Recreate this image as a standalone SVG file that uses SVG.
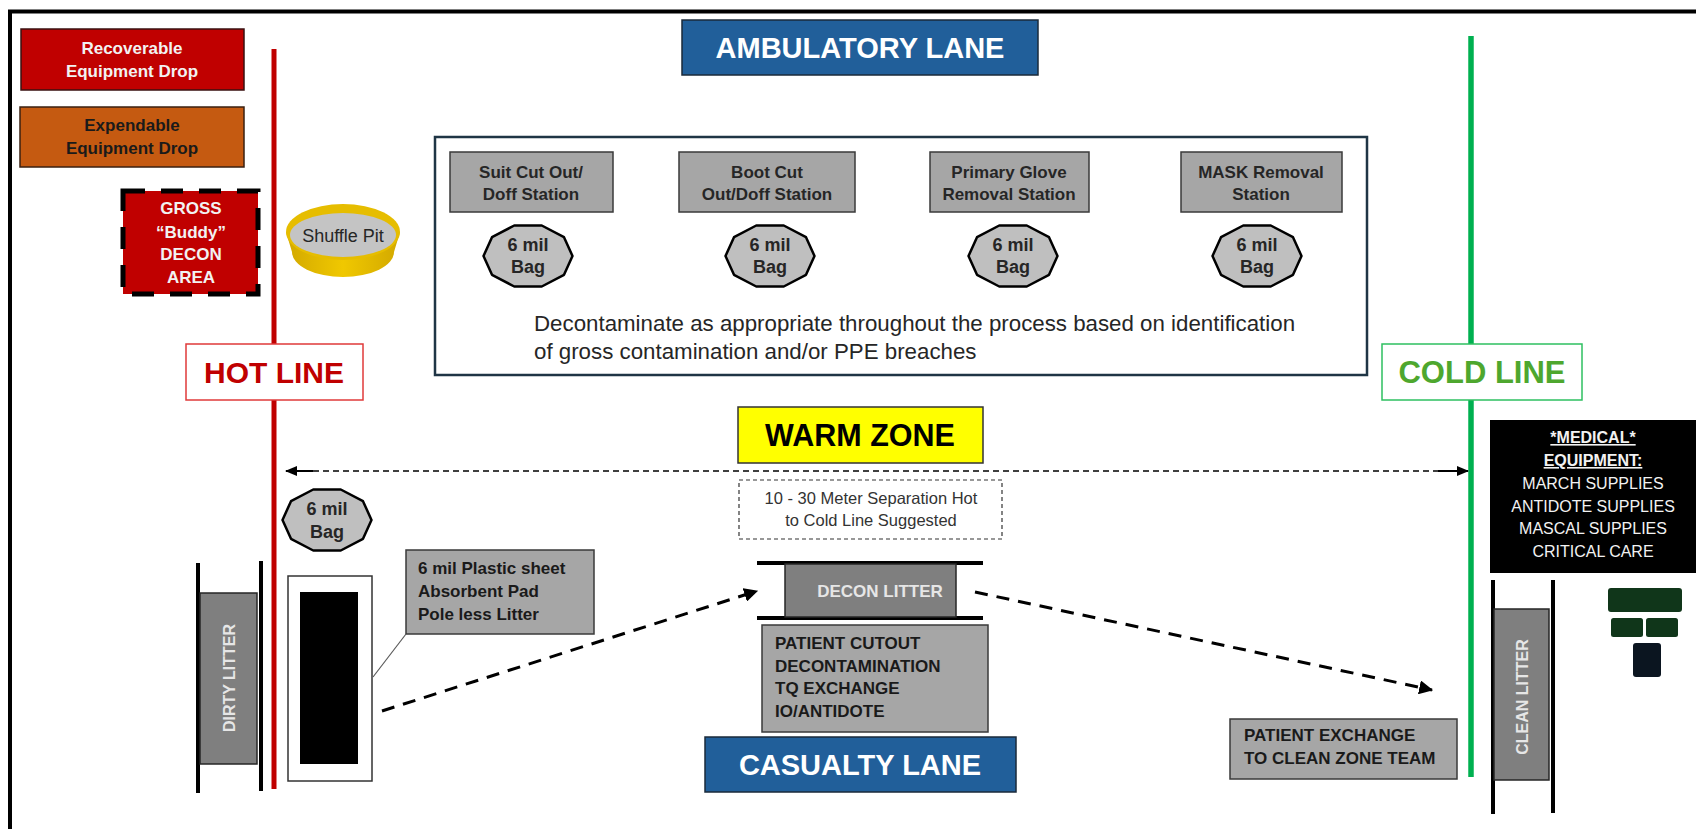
<svg xmlns="http://www.w3.org/2000/svg" xmlns:xlink="http://www.w3.org/1999/xlink" width="1696" height="829" viewBox="0 0 1696 829">
  <style>
    text { font-family: "Liberation Sans", Arial, sans-serif; }
    .bold { font-weight: bold; }
    .mid { text-anchor: middle; }
    .grey-box { fill: #A6A6A6; stroke: #3A3A3A; stroke-width: 1.5; }
    .station-text { font-size: 17px; font-weight: bold; fill: #262626; text-anchor: middle; }
    .bag-text { font-size: 18px; font-weight: bold; fill: #262626; text-anchor: middle; }
    .note-text { font-size: 17px; font-weight: bold; fill: #1A1A1A; }
    .pole { stroke: #000; stroke-width: 4; }
    .litter { fill: #7F7F7F; stroke: #262626; stroke-width: 1.5; }
    .litter-text { font-size: 16px; font-weight: bold; fill: #E6E6E6; text-anchor: middle; }
    .lane { fill: #215F9A; stroke: #1A2A3A; stroke-width: 1.5; }
    .lane-text { font-size: 29px; font-weight: bold; fill: #FFFFFF; text-anchor: middle; }
    .flow { fill: none; stroke: #000; stroke-width: 3; stroke-dasharray: 13 9; }
    .med { font-size: 16px; fill: #F2F2F2; text-anchor: middle; }
  </style>
  <defs>
    <!-- ten-sided bag outline centred on the origin -->
    <path id="bag" d="M44.5,0 L36,-18.85 L13.75,-30.5 L-13.75,-30.5 L-36,-18.85 L-44.5,0 L-36,18.85 L-13.75,30.5 L13.75,30.5 L36,18.85 Z" fill="#BFBFBF" stroke="#000" stroke-width="2.5" stroke-linejoin="round"/>
    <marker id="head" viewBox="0 0 12 12" refX="11" refY="6" markerWidth="14" markerHeight="14" markerUnits="userSpaceOnUse" orient="auto">
      <path d="M0,0 L12,6 L0,12 Z" fill="#000"/>
    </marker>
    <marker id="thin-head" viewBox="0 0 12 12" refX="11" refY="6" markerWidth="12" markerHeight="12" markerUnits="userSpaceOnUse" orient="auto">
      <path d="M0,1 L12,6 L0,11 Z" fill="#000"/>
    </marker>
    <linearGradient id="gold" x1="0" y1="0" x2="1" y2="0">
      <stop offset="0" stop-color="#D2A800"/>
      <stop offset="0.5" stop-color="#F0C800"/>
      <stop offset="1" stop-color="#D2A800"/>
    </linearGradient>
  </defs>

  <rect width="1696" height="829" fill="#FFFFFF"/>
  <!-- outer frame -->
  <rect x="10" y="11.5" width="1700" height="830" fill="none" stroke="#000" stroke-width="4"/>

  <!-- zone boundary lines -->
  <g id="hot-line-bar">
    <line x1="274" y1="49" x2="274" y2="789" stroke="#C00000" stroke-width="5"/>
  </g>
  <g id="cold-line-bar">
    <line x1="1471" y1="36" x2="1471" y2="777" stroke="#00B050" stroke-width="5.5"/>
  </g>

  <g id="recoverable-drop">
    <rect x="21" y="29" width="223" height="61" fill="#C00000" stroke="#3A1010" stroke-width="1.5"/>
    <text class="bold mid" x="132" y="54" font-size="17" fill="#F2F2F2">Recoverable</text>
    <text class="bold mid" x="132" y="77" font-size="17" fill="#F2F2F2">Equipment Drop</text>
  </g>

  <g id="expendable-drop">
    <rect x="20" y="107" width="224" height="60" fill="#C55A11" stroke="#3A2010" stroke-width="1.5"/>
    <text class="bold mid" x="132" y="131" font-size="17" fill="#1A1A1A">Expendable</text>
    <text class="bold mid" x="132" y="154" font-size="17" fill="#1A1A1A">Equipment Drop</text>
  </g>

  <g id="gross-decon">
    <rect x="123" y="191" width="135" height="103" fill="#C00000" stroke="#000" stroke-width="5" stroke-dasharray="22 16"/>
    <text class="bold mid" x="191" y="214" font-size="17" fill="#F2F2F2">GROSS</text>
    <text class="bold mid" x="191" y="238" font-size="17" fill="#F2F2F2">“Buddy”</text>
    <text class="bold mid" x="191" y="260" font-size="17" fill="#F2F2F2">DECON</text>
    <text class="bold mid" x="191" y="283" font-size="17" fill="#F2F2F2">AREA</text>
  </g>

  <g id="shuffle-pit">
    <path d="M286,232 L292,252 A51,25 0 0 0 394,252 L400,232 Z" fill="url(#gold)"/>
    <ellipse cx="343" cy="232" rx="57" ry="28" fill="#E6BD00"/>
    <ellipse cx="343" cy="235" rx="53" ry="22" fill="#C4C4C4"/>
    <text class="mid" x="343" y="242" font-size="18" fill="#262626">Shuffle Pit</text>
  </g>

  <g id="ambulatory-lane">
    <rect x="682" y="20" width="356" height="55" class="lane"/>
    <text class="lane-text" x="860" y="58">AMBULATORY LANE</text>
  </g>

  <g id="ambulatory-stations">
    <rect x="435" y="137" width="932" height="238" fill="#FFFFFF" stroke="#1F3545" stroke-width="2.5"/>
    <g id="station-suit">
      <rect x="450" y="152" width="163" height="60" class="grey-box"/>
      <text class="station-text" x="531" y="178">Suit Cut Out/</text>
      <text class="station-text" x="531" y="200">Doff Station</text>
    </g>
    <g id="station-boot">
      <rect x="679" y="152" width="176" height="60" class="grey-box"/>
      <text class="station-text" x="767" y="178">Boot Cut</text>
      <text class="station-text" x="767" y="200">Out/Doff Station</text>
    </g>
    <g id="station-glove">
      <rect x="930" y="152" width="159" height="60" class="grey-box"/>
      <text class="station-text" x="1009" y="178">Primary Glove</text>
      <text class="station-text" x="1009" y="200">Removal Station</text>
    </g>
    <g id="station-mask">
      <rect x="1181" y="152" width="161" height="60" class="grey-box"/>
      <text class="station-text" x="1261" y="178">MASK Removal</text>
      <text class="station-text" x="1261" y="200">Station</text>
    </g>
    <g id="bag-suit">
      <use xlink:href="#bag" x="528" y="256"/>
      <text class="bag-text" x="528" y="251">6 mil</text>
      <text class="bag-text" x="528" y="273">Bag</text>
    </g>
    <g id="bag-boot">
      <use xlink:href="#bag" x="770" y="256"/>
      <text class="bag-text" x="770" y="251">6 mil</text>
      <text class="bag-text" x="770" y="273">Bag</text>
    </g>
    <g id="bag-glove">
      <use xlink:href="#bag" x="1013" y="256"/>
      <text class="bag-text" x="1013" y="251">6 mil</text>
      <text class="bag-text" x="1013" y="273">Bag</text>
    </g>
    <g id="bag-mask">
      <use xlink:href="#bag" x="1257" y="256"/>
      <text class="bag-text" x="1257" y="251">6 mil</text>
      <text class="bag-text" x="1257" y="273">Bag</text>
    </g>
    <text x="534" y="331" font-size="22.3" fill="#262626">Decontaminate as appropriate throughout the process based on identification</text>
    <text x="534" y="359" font-size="22.3" fill="#262626">of gross contamination and/or PPE breaches</text>
  </g>

  <g id="hot-line-label">
    <rect x="186" y="344" width="177" height="56" fill="#FFFFFF" stroke="#E03A3A" stroke-width="1.5"/>
    <text class="bold mid" x="274" y="383" font-size="30" fill="#C00000">HOT LINE</text>
  </g>

  <g id="cold-line-label">
    <rect x="1382" y="344" width="200" height="56" fill="#FFFFFF" stroke="#2EC060" stroke-width="1.5"/>
    <text class="bold mid" x="1482" y="383" font-size="31" fill="#4EA72E">COLD LINE</text>
  </g>

  <g id="warm-zone">
    <rect x="738" y="407" width="245" height="56" fill="#FFFF00" stroke="#333" stroke-width="1.5"/>
    <text class="bold mid" x="860" y="446" font-size="30.5" fill="#000">WARM ZONE</text>
  </g>

  <g id="separation-note">
    <rect x="739" y="480" width="263" height="59" fill="#FFFFFF" stroke="#333" stroke-width="1.2" stroke-dasharray="4 3"/>
    <text class="mid" x="871" y="504" font-size="16.5" fill="#333">10 - 30 Meter Separation Hot</text>
    <text class="mid" x="871" y="526" font-size="16.5" fill="#333">to Cold Line Suggested</text>
  </g>

  <g id="medical-equipment">
    <rect x="1490" y="420" width="210" height="153" fill="#000"/>
    <text class="med bold" x="1593" y="443" font-size="17" text-decoration="underline">*MEDICAL*</text>
    <text class="med bold" x="1593" y="466" font-size="17" text-decoration="underline">EQUIPMENT:</text>
    <text class="med" x="1593" y="489">MARCH SUPPLIES</text>
    <text class="med" x="1593" y="512">ANTIDOTE SUPPLIES</text>
    <text class="med" x="1593" y="534">MASCAL SUPPLIES</text>
    <text class="med" x="1593" y="557">CRITICAL CARE</text>
  </g>

  <g id="equipment-stack">
    <rect x="1608" y="588" width="74" height="24" rx="3" fill="#10361A"/>
    <rect x="1611" y="618" width="32" height="19" rx="2.5" fill="#10361A"/>
    <rect x="1646" y="618" width="32" height="19" rx="2.5" fill="#10361A"/>
    <rect x="1633" y="643" width="28" height="34" rx="3" fill="#0B1520"/>
  </g>

  <g id="hot-bag">
    <use xlink:href="#bag" x="327" y="520"/>
    <text class="bag-text" x="327" y="515">6 mil</text>
    <text class="bag-text" x="327" y="538">Bag</text>
  </g>

  <g id="dirty-litter">
    <line class="pole" x1="198" y1="563" x2="198" y2="793"/>
    <line class="pole" x1="261" y1="561" x2="261" y2="791"/>
    <rect x="200" y="593" width="57" height="171" class="litter"/>
    <text class="litter-text" transform="translate(235,678) rotate(-90)">DIRTY LITTER</text>
  </g>

  <g id="poleless-litter">
    <rect x="288" y="576" width="84" height="205" fill="#FFFFFF" stroke="#333" stroke-width="1.5"/>
    <rect x="300" y="592" width="58" height="172" fill="#000"/>
  </g>

  <g id="poleless-note">
    <rect x="406" y="550" width="188" height="84" class="grey-box"/>
    <text class="note-text" x="418" y="574">6 mil Plastic sheet</text>
    <text class="note-text" x="418" y="597">Absorbent Pad</text>
    <text class="note-text" x="418" y="620">Pole less Litter</text>
  </g>

  <g id="decon-litter">
    <line class="pole" x1="757" y1="563" x2="983" y2="563"/>
    <line class="pole" x1="757" y1="618" x2="983" y2="618"/>
    <rect x="785" y="564" width="171" height="53" class="litter"/>
    <text class="bold mid" x="880" y="597" font-size="17" fill="#E6E6E6">DECON LITTER</text>
  </g>

  <g id="patient-cutout">
    <rect x="762" y="625" width="226" height="107" class="grey-box"/>
    <text class="note-text" x="775" y="649">PATIENT CUTOUT</text>
    <text class="note-text" x="775" y="672">DECONTAMINATION</text>
    <text class="note-text" x="775" y="694">TQ EXCHANGE</text>
    <text class="note-text" x="775" y="717">IO/ANTIDOTE</text>
  </g>

  <g id="casualty-lane">
    <rect x="705" y="737" width="311" height="55" class="lane"/>
    <text class="lane-text" x="860" y="775">CASUALTY LANE</text>
  </g>

  <g id="patient-exchange">
    <rect x="1230" y="719" width="227" height="60" class="grey-box"/>
    <text class="note-text" x="1244" y="741" font-size="16.5">PATIENT EXCHANGE</text>
    <text class="note-text" x="1244" y="764" font-size="16.5">TO CLEAN ZONE TEAM</text>
  </g>

  <g id="clean-litter">
    <line class="pole" x1="1493" y1="580" x2="1493" y2="814"/>
    <line class="pole" x1="1553" y1="580" x2="1553" y2="813"/>
    <rect x="1494" y="609" width="55" height="171" class="litter"/>
    <text class="litter-text" font-size="15.5" transform="translate(1528,697) rotate(-90)">CLEAN LITTER</text>
  </g>

  <g id="connectors">
    <!-- leader from the note to the poleless litter -->
    <line x1="406" y1="634" x2="373" y2="677" stroke="#595959" stroke-width="1.2"/>
    <!-- hot-to-cold separation span -->
    <line x1="313" y1="471" x2="1438" y2="471" stroke="#000" stroke-width="1.5" stroke-dasharray="6 4"/>
    <line x1="313" y1="471" x2="286" y2="471" stroke="#000" stroke-width="2" marker-end="url(#thin-head)"/>
    <line x1="1438" y1="471" x2="1468" y2="471" stroke="#000" stroke-width="2" marker-end="url(#thin-head)"/>
    <!-- casualty flow -->
    <path class="flow" d="M382,711 L757,591" marker-end="url(#head)"/>
    <path class="flow" d="M975,592 L1432,690" marker-end="url(#head)"/>
  </g>
</svg>
